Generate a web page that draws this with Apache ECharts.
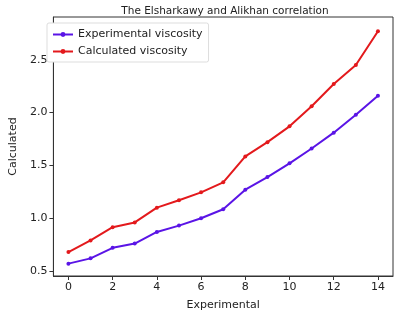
<!DOCTYPE html>
<html>
<head>
<meta charset="utf-8">
<script src="https://cdn.jsdelivr.net/npm/echarts@6/dist/echarts.min.js"></script>
<style>
  html, body { margin: 0; padding: 0; background: #fff; }
  #chart { width: 406px; height: 320px; }
</style>
</head>
<body>
<div id="chart"></div>
<script>
const xValues = [0, 1, 2, 3, 4, 5, 6, 7, 8, 9, 10, 11, 12, 13, 14];
const experimental = [0.57, 0.62, 0.72, 0.76, 0.87, 0.93, 1.0, 1.085, 1.27, 1.39, 1.52, 1.66, 1.81, 1.98, 2.16];
const calculated = [0.68, 0.79, 0.915, 0.96, 1.1, 1.17, 1.245, 1.34, 1.585, 1.72, 1.87, 2.06, 2.27, 2.45, 2.77];
const xTicks = [0, 2, 4, 6, 8, 10, 12, 14];
const yTicks = [0.5, 1.0, 1.5, 2.0, 2.5];

const chart = echarts.init(document.getElementById('chart'));

const font = 'DejaVu Sans';
const pairs = arr => xValues.map((x, i) => [x, arr[i]]);

chart.setOption({
  animation: false,
  backgroundColor: '#fff',
  textStyle: { fontFamily: font },
  title: {
    text: 'The Elsharkawy and Alikhan correlation',
    left: 220,
    textAlign: 'center',
    top: 1,
    textStyle: { fontSize: 10.5, fontWeight: 'normal', color: '#222', fontFamily: font }
  },
  legend: {
    left: 47,
    top: 23,
    orient: 'vertical',
    backgroundColor: '#fff',
    borderColor: '#ddd',
    borderWidth: 1,
    borderRadius: 2,
    padding: [6, 6, 5, 5],
    itemGap: 6,
    itemWidth: 20,
    itemHeight: 6,
    textStyle: { fontSize: 11, color: '#222', fontFamily: font },
    data: ['Experimental viscosity', 'Calculated viscosity']
  },
  grid: {
    left: 45, right: 13, top: 17, bottom: 44,
    show: true, borderColor: '#333', borderWidth: 1
  },
  xAxis: {
    type: 'value',
    min: -0.68,
    max: 14.68,
    name: 'Experimental',
    nameLocation: 'middle',
    nameGap: 24,
    nameTextStyle: { fontSize: 11, color: '#222' },
    axisLine: { show: true, onZero: false, lineStyle: { color: '#333' } },
    axisTick: { show: true, length: 4, customValues: xTicks, lineStyle: { color: '#333' } },
    axisLabel: { customValues: xTicks, fontSize: 11, color: '#222', margin: 6 },
    splitLine: { show: false }
  },
  yAxis: {
    type: 'value',
    min: 0.453,
    max: 2.905,
    name: 'Calculated',
    nameLocation: 'middle',
    nameGap: 33,
    nameTextStyle: { fontSize: 11, color: '#222' },
    axisLine: { show: true, onZero: false, lineStyle: { color: '#333' } },
    axisTick: { show: true, length: 4, customValues: yTicks, lineStyle: { color: '#333' } },
    axisLabel: {
      customValues: yTicks, fontSize: 11, color: '#222', margin: 6,
      formatter: v => v.toFixed(1)
    },
    splitLine: { show: false }
  },
  series: [
    {
      name: 'Experimental viscosity',
      type: 'line',
      data: pairs(experimental),
      symbol: 'circle',
      symbolSize: 4,
      color: '#5a14e6',
      lineStyle: { width: 2 },
      z: 3
    },
    {
      name: 'Calculated viscosity',
      type: 'line',
      data: pairs(calculated),
      symbol: 'circle',
      symbolSize: 4,
      color: '#e3191c',
      lineStyle: { width: 2 },
      z: 3
    }
  ]
});
</script>
</body>
</html>
